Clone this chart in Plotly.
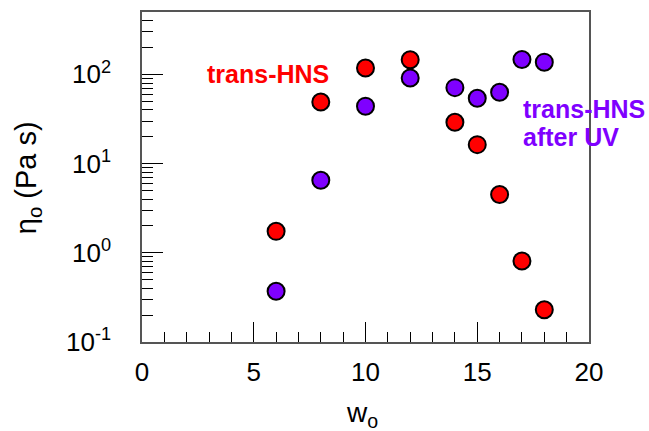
import plotly.graph_objects as go

w_vals = [6, 8, 10, 12, 14, 15, 16, 17, 18]
eta_trans = [1.74, 49, 118, 146, 29, 16.3, 4.5, 0.81, 0.23]
eta_after_uv = [0.37, 6.5, 44, 91, 71, 54, 63, 147, 137]

y_tickvals = [0.1, 1, 10, 100]
y_ticktext = ["10<sup>-1</sup>", "10<sup>0</sup>", "10<sup>1</sup>", "10<sup>2</sup>"]
x_tickvals = [0, 5, 10, 15, 20]

RED = "#FF0000"
PURPLE = "#7F00FF"
FONT = "Liberation Sans, Arial, sans-serif"

fig = go.Figure()
fig.add_trace(go.Scatter(x=w_vals, y=eta_trans, mode="markers", name="trans-HNS",
                         marker=dict(size=17, color=RED, line=dict(color="black", width=2))))
fig.add_trace(go.Scatter(x=w_vals, y=eta_after_uv, mode="markers", name="trans-HNS after UV",
                         marker=dict(size=17, color=PURPLE, line=dict(color="black", width=2))))

minor_y = []
for d in [0.1, 1, 10, 100]:
    for m in range(2, 10):
        v = m * d
        if v < 500:
            minor_y.append(v)

PW, PH = 447, 331.7

fig.update_layout(
    width=649, height=431,
    margin=dict(l=142, r=60, t=10, b=89),
    plot_bgcolor="white", paper_bgcolor="white",
    showlegend=False,
    font=dict(family=FONT, color="black"),
    xaxis=dict(range=[0, 20], tickvals=x_tickvals, ticks="inside", ticklen=20, tickwidth=1,
               tickcolor="black", showline=True, linecolor="#555555", linewidth=1.5, mirror=True,
               showgrid=False, zeroline=False, tickfont=dict(size=26, family=FONT),
               ticklabelstandoff=6,
               minor=dict(dtick=1, ticks="inside", ticklen=10, tickcolor="black", tickwidth=1, showgrid=False)),
    yaxis=dict(type="log", range=[-1, 2.699], tickvals=y_tickvals, ticktext=y_ticktext,
               ticks="inside", ticklen=21, tickwidth=1, tickcolor="black",
               showline=True, linecolor="#555555", linewidth=1.5, mirror=True,
               showgrid=False, zeroline=False, tickfont=dict(size=26, family=FONT),
               ticklabelstandoff=24,
               minor=dict(tickvals=minor_y, ticks="inside", ticklen=11, tickcolor="black", tickwidth=1, showgrid=False)),
)

fig.add_annotation(x=(28 - 142) / PW, y=(341.7 - 176) / PH, xref="paper", yref="paper",
                   text="η<sub>o</sub> (Pa s)", textangle=-90, showarrow=False,
                   font=dict(size=29, family=FONT), xanchor="center", yanchor="middle")
fig.add_annotation(x=(362 - 142) / PW, y=(341.7 - 415) / PH, xref="paper", yref="paper",
                   text="w<sub>o</sub>", showarrow=False, font=dict(size=28, family=FONT),
                   xanchor="center", yanchor="middle")

fig.add_annotation(x=(205 - 142) / PW, y=(341.7 - 72.5) / PH, xref="paper", yref="paper",
                   text="<b>trans-HNS</b>", showarrow=False, font=dict(size=25, color=RED, family=FONT),
                   xanchor="left", yanchor="middle")
fig.add_annotation(x=(521 - 142) / PW, y=(341.7 - 107) / PH, xref="paper", yref="paper",
                   text="<b>trans-HNS</b>", showarrow=False,
                   font=dict(size=25, color=PURPLE, family=FONT), xanchor="left", yanchor="middle")
fig.add_annotation(x=(521 - 142) / PW, y=(341.7 - 135.5) / PH, xref="paper", yref="paper",
                   text="<b>after UV</b>", showarrow=False,
                   font=dict(size=25, color=PURPLE, family=FONT), xanchor="left", yanchor="middle")

fig.write_html("out.html")
